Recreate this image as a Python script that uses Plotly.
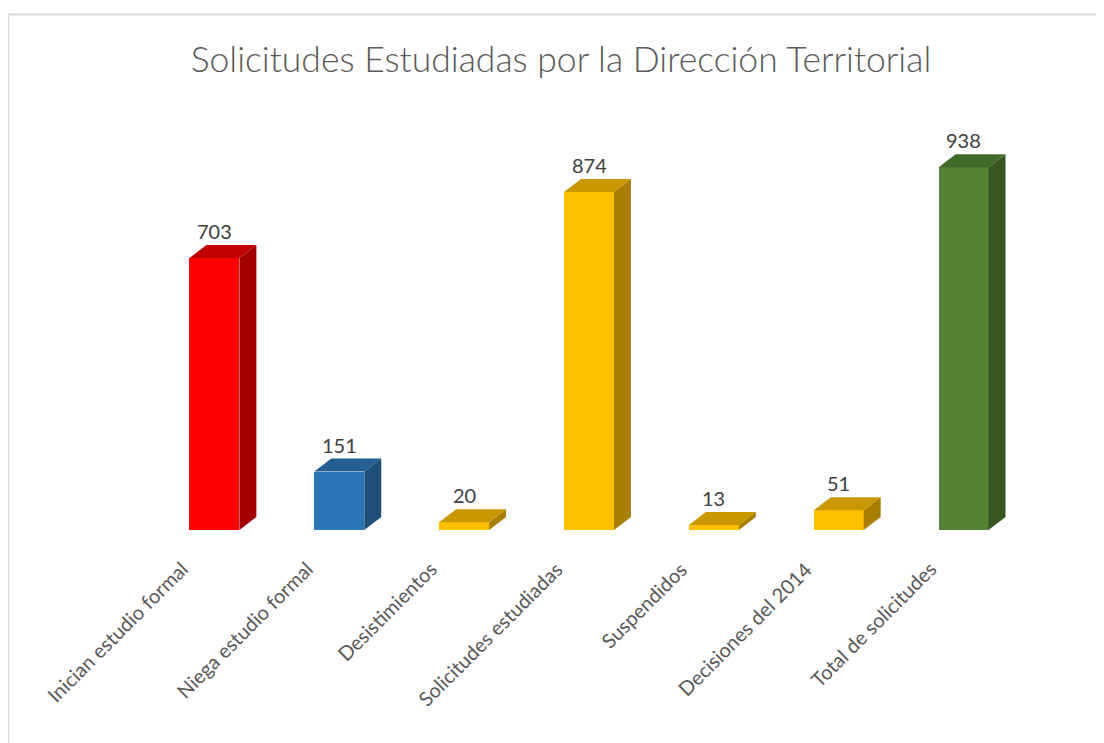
import plotly.graph_objects as go

categories = ["Inician estudio formal", "Niega estudio formal", "Desistimientos",
              "Solicitudes estudiadas", "Suspendidos", "Decisiones del 2014",
              "Total de solicitudes"]
values = [703, 151, 20, 874, 13, 51, 938]
front_colors = ["#FF0000", "#2E75B6", "#FFC000", "#FFC000", "#FFC000", "#FFC000", "#548235"]
top_colors = ["#C00000", "#255E91", "#C99700", "#C99700", "#C99700", "#C99700", "#426A29"]
side_colors = ["#A50000", "#1F4E79", "#A87D00", "#A87D00", "#A87D00", "#A87D00", "#375623"]

title = "Solicitudes Estudiadas por la Dirección Territorial"

OFF = 8  # page body margin
W, H = 1104, 743
ML = 151.5 - OFF
MR = W - (1026.5 - OFF)
MT = 130 - OFF
MB = H - (530 - OFF)
YMAX = 1034
BAR_W = 0.4
DX = 0.136   # depth offset in category units
DY = 33.6    # depth offset in value units
FONT = "Lato"

xs = list(range(len(categories)))

fig = go.Figure()
fig.add_trace(go.Bar(
    x=xs, y=values, width=BAR_W,
    marker=dict(color=front_colors, line=dict(width=0)),
    hoverinfo="skip", showlegend=False,
))

shapes = []
for i, v in enumerate(values):
    x0 = i - BAR_W / 2
    x1 = i + BAR_W / 2
    top_path = (f"M {x0},{v} L {x1},{v} L {x1 + DX},{v + DY} "
                f"L {x0 + DX},{v + DY} Z")
    side_path = (f"M {x1},{v} L {x1 + DX},{v + DY} L {x1 + DX},{DY} "
                 f"L {x1},0 Z")
    shapes.append(dict(type="path", path=side_path, xref="x", yref="y",
                       fillcolor=side_colors[i], line=dict(width=0), layer="above"))
    shapes.append(dict(type="path", path=top_path, xref="x", yref="y",
                       fillcolor=top_colors[i], line=dict(width=0), layer="above"))

# outer chart frame
pw = W - ML - MR
ph = H - MT - MB
fl = (7.5 - OFF - ML) / pw
ft = (H - MB - (14.5 - OFF)) / ph
shapes.append(dict(type="path", xref="paper", yref="paper",
                   path=f"M {fl},-0.6 L {fl},{ft} L 1.3,{ft}",
                   line=dict(color="#D9D9D9", width=2)))

annotations = []
for i, v in enumerate(values):
    annotations.append(dict(x=i, y=v + DY, xref="x", yref="y", text=str(v),
                            showarrow=False, yanchor="bottom", xanchor="center",
                            yshift=0, font=dict(family=FONT, size=20, color="#404040")))
for i, c in enumerate(categories):
    annotations.append(dict(x=i, y=0, xref="x", yref="y", text=c,
                            showarrow=False, textangle=-45,
                            xanchor="right", yanchor="top",
                            xshift=-20, yshift=-24,
                            font=dict(family=FONT, size=20, color="#595959")))

fig.update_layout(
    width=W, height=H,
    margin=dict(l=ML, r=MR, t=MT, b=MB),
    paper_bgcolor="white", plot_bgcolor="white",
    title=dict(text=title, x=(561 - OFF) / W, xref="container", xanchor="center",
               y=1 - (60 - OFF) / H, yref="container", yanchor="middle",
               font=dict(family=FONT, size=35.5, color="#595959", weight=300)),
    xaxis=dict(range=[-0.5, 6.5], showticklabels=False, showgrid=False,
               zeroline=False, showline=False, ticks=""),
    yaxis=dict(range=[0, YMAX], showticklabels=False, showgrid=False,
               zeroline=False, showline=False, ticks=""),
    shapes=shapes, annotations=annotations, bargap=0,
)

fig.write_html("out.html")
